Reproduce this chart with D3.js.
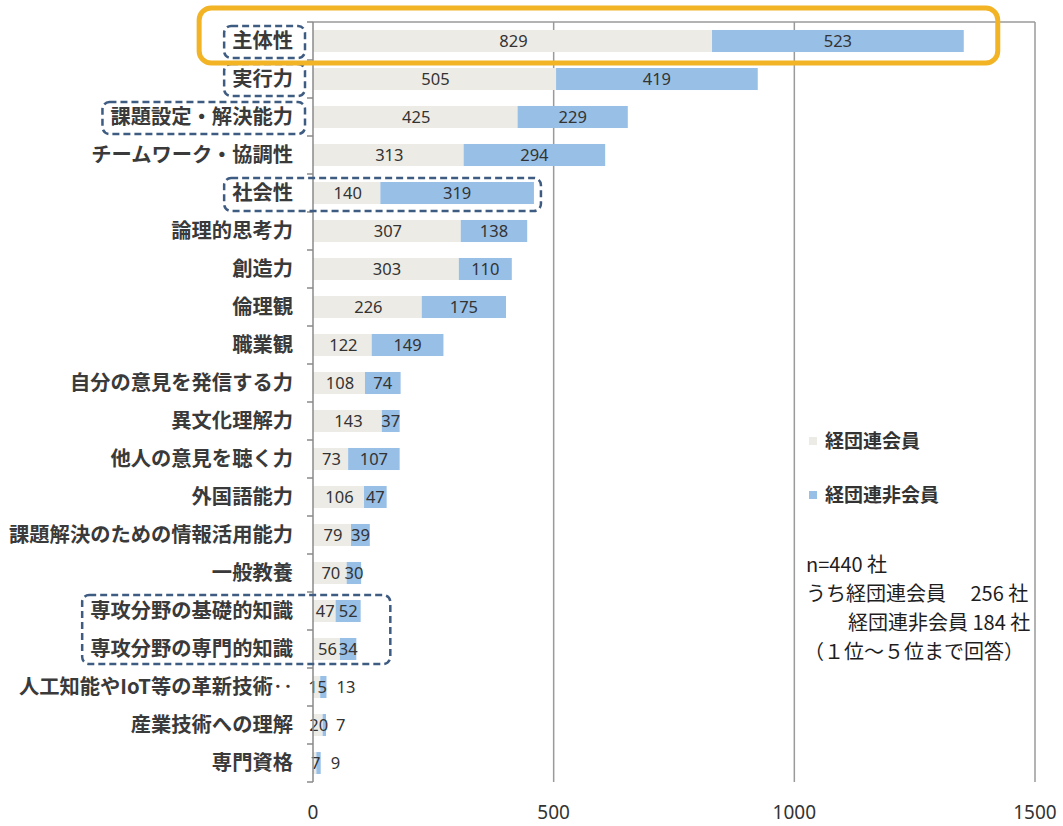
<!DOCTYPE html>
<html><head><meta charset="utf-8">
<script src="https://cdn.jsdelivr.net/npm/d3@7"></script>
<style>
html,body{margin:0;padding:0;background:#fff;}
svg{display:block;}
</style></head>
<body>
<svg id="chart" width="1063" height="826"></svg>
<script>
const categories = ["主体性","実行力","課題設定・解決能力","チームワーク・協調性","社会性","論理的思考力","創造力","倫理観","職業観","自分の意見を発信する力","異文化理解力","他人の意見を聴く力","外国語能力","課題解決のための情報活用能力","一般教養","専攻分野の基礎的知識","専攻分野の専門的知識","人工知能やIoT等の革新技術‥","産業技術への理解","専門資格"];
const members    = [829,505,425,313,140,307,303,226,122,108,143,73,106,79,70,47,56,15,20,7];
const nonMembers = [523,419,229,294,319,138,110,175,149,74,37,107,47,39,30,52,34,13,7,9];
const seriesNames = ["経団連会員","経団連非会員"];
const xTicks = [0,500,1000,1500];
const noteLines = ["n=440 社","うち経団連会員　 256 社","経団連非会員 184 社","（１位～５位まで回答）"];
const boxedLabels = ["主体性","実行力","課題設定・解決能力"];

const colors = ["#EDEBE5","#98BFE6"];
const svg = d3.select("#chart");
const M = {left:313, right:1035, top:22, bottom:782};
const x = d3.scaleLinear().domain([0,1500]).range([M.left, M.right]);
const y = d3.scaleBand().domain(categories).range([M.top, M.bottom]).paddingInner(0.42).paddingOuter(0.21);
const yb = d3.scaleBand().domain(categories).range([M.top, M.bottom]);

const data = categories.map((c,i)=>({c, a:members[i], b:nonMembers[i]}));

// gridlines
svg.append("g").selectAll("line").data(xTicks.slice(1)).join("line")
  .attr("x1",d=>x(d)).attr("x2",d=>x(d)).attr("y1",M.top).attr("y2",M.bottom)
  .attr("stroke","#9a9a9a").attr("stroke-width",1.5);
svg.append("line").attr("x1",M.left).attr("x2",M.right).attr("y1",M.top).attr("y2",M.top)
  .attr("stroke","#9a9a9a").attr("stroke-width",1.5);

// bars
const g = svg.append("g");
g.selectAll("rect.a").data(data).join("rect").attr("class","a")
  .attr("x",x(0)).attr("y",d=>y(d.c)).attr("width",d=>x(d.a)-x(0)).attr("height",y.bandwidth())
  .attr("fill",colors[0]);
g.selectAll("rect.b").data(data).join("rect").attr("class","b")
  .attr("x",d=>x(d.a)).attr("y",d=>y(d.c)).attr("width",d=>x(d.a+d.b)-x(d.a)).attr("height",y.bandwidth())
  .attr("fill",colors[1]);

// value labels
const vfont = "'Noto Sans', 'Open Sans', sans-serif";
g.selectAll("text.a").data(data).join("text").attr("class","a")
  .attr("x",d=>(x(0)+x(d.a))/2+1).attr("y",d=>y(d.c)+y.bandwidth()/2)
  .attr("dy","0.36em").attr("text-anchor","middle")
  .style("font-family",vfont).style("font-size","16.5px").attr("fill","#333")
  .text(d=>d.a);
g.selectAll("text.b").data(data).join("text").attr("class","b")
  .each(function(d){
    const w = x(d.a+d.b)-x(d.a);
    const el = d3.select(this);
    if (w < 10) el.attr("x", x(d.a+d.b)+10).attr("text-anchor","start");
    else el.attr("x",(x(d.a)+x(d.a+d.b))/2).attr("text-anchor","middle");
  })
  .attr("y",d=>y(d.c)+y.bandwidth()/2).attr("dy","0.36em")
  .style("font-family",vfont).style("font-size","16.5px").attr("fill","#333")
  .text(d=>d.b);

// y axis
const yAxis = svg.append("g");
yAxis.append("line").attr("x1",M.left).attr("x2",M.left).attr("y1",M.top).attr("y2",M.bottom)
  .attr("stroke","#8a8a8a").attr("stroke-width",1.5);
const bounds = categories.map(c=>yb(c)).concat([M.bottom]);
yAxis.selectAll("line.tk").data(bounds).join("line").attr("class","tk")
  .attr("x1",M.left-6).attr("x2",M.left).attr("y1",d=>d).attr("y2",d=>d)
  .attr("stroke","#8a8a8a").attr("stroke-width",1.5);
const labels = yAxis.selectAll("text.cat").data(categories).join("text").attr("class","cat")
  .attr("x",M.left-20).attr("y",d=>yb(d)+yb.bandwidth()/2).attr("dy","0.36em")
  .attr("text-anchor","end")
  .style("font-family","'Noto Sans CJK JP', sans-serif").style("font-size","20.3px").style("font-weight","bold")
  .attr("fill","#3a3a3a")
  .text(d=>d);

// x axis labels
svg.append("g").selectAll("text").data(xTicks).join("text")
  .attr("x",d=>x(d)).attr("y",812).attr("dy","0.36em").attr("text-anchor","middle")
  .style("font-family","'Noto Sans', sans-serif").style("font-size","19px").attr("fill","#333")
  .text(d=>d);

// legend
const lg = svg.append("g");
seriesNames.forEach((s,i)=>{
  const ly = 441 + i*54;
  lg.append("rect").attr("x",809).attr("y",ly-4).attr("width",8).attr("height",8).attr("fill",colors[i]);
  lg.append("text").attr("x",825).attr("y",ly).attr("dy","0.36em")
    .style("font-family","'Noto Sans CJK JP', sans-serif").style("font-size","19px").style("font-weight","bold")
    .attr("fill","#333").text(s);
});
// note
const noteX = [806,806,848,804];
noteLines.forEach((t,i)=>{
  svg.append("text").attr("x",noteX[i]).attr("y",565+i*29).attr("dy","0.36em")
    .style("font-family","'Noto Sans CJK JP', sans-serif").style("font-size","20px")
    .attr("fill","#1e1e1e").text(t);
});

// annotation boxes
const ann = svg.append("g").attr("fill","none");
const labelNodes = {};
labels.each(function(d){ labelNodes[d]=this.getBBox(); });
function dashBox(x0,y0,x1,y1){
  ann.append("rect").attr("x",x0).attr("y",y0).attr("width",x1-x0).attr("height",y1-y0)
    .attr("rx",7).attr("stroke","#3E5B82").attr("stroke-width",2.5).attr("stroke-dasharray","7,4");
}
boxedLabels.forEach(c=>{
  const b = labelNodes[c];
  const cy = yb(c)+yb.bandwidth()/2;
  dashBox(b.x-8, cy-15, M.left-8, cy+17);
});
{
  const c = "社会性", i = categories.indexOf(c);
  const b = labelNodes[c], cy = yb(c)+yb.bandwidth()/2;
  dashBox(b.x-8, cy-15, x(members[i]+nonMembers[i])+7, cy+18);
}
{
  const c1 = "専攻分野の基礎的知識", c2 = "専攻分野の専門的知識";
  const b = labelNodes[c1];
  const i2 = categories.indexOf(c2);
  dashBox(b.x-8, yb(c1)+yb.bandwidth()/2-16, x(members[i2]+nonMembers[i2])+34, yb(c2)+yb.bandwidth()/2+15);
}
{
  const c = "主体性", i = categories.indexOf(c), b = labelNodes[c];
  ann.append("rect").attr("x",b.x-33).attr("y",yb(c)-14).attr("width",x(members[i]+nonMembers[i])+34-(b.x-33))
    .attr("height",yb.bandwidth()+17).attr("rx",12)
    .attr("stroke","#F2B424").attr("stroke-width",5);
}
</script>
</body></html>
